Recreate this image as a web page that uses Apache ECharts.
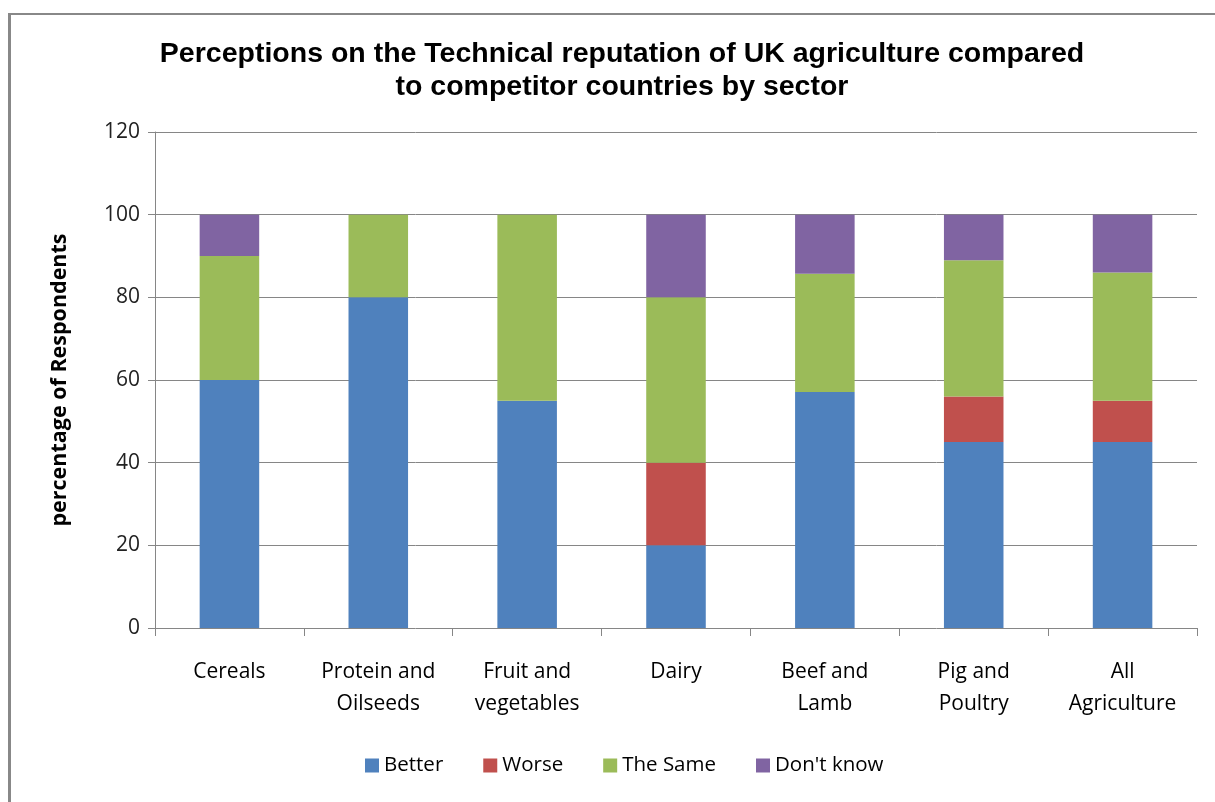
<!DOCTYPE html>
<html>
<head>
<meta charset="utf-8">
<script src="https://cdn.jsdelivr.net/npm/echarts@6/dist/echarts.min.js"></script>
<style>
html,body{margin:0;padding:0;background:#fff;}
#chart{width:1215px;height:802px;}
</style>
</head>
<body>
<div id="chart"></div>
<script>
const categories = ['Cereals', 'Protein and\nOilseeds', 'Fruit and\nvegetables', 'Dairy', 'Beef and\nLamb', 'Pig and\nPoultry', 'All\nAgriculture'];
const better   = [60, 80, 55, 20, 57.1, 45, 45];
const worse    = [0, 0, 0, 20, 0, 11, 10];
const theSame  = [30, 20, 45, 40, 28.6, 33, 31];
const dontKnow = [10, 0, 0, 20, 14.3, 11, 14];
const yTicks = {min: 0, max: 120, interval: 20};

const chart = echarts.init(document.getElementById('chart'));
const lab = "'Open Sans', 'Noto Sans', sans-serif";
function bar(name, data, color) {
  return {name: name, type: 'bar', stack: 'total', data: data, barWidth: '40%',
    itemStyle: {color: color}, emphasis: {disabled: true}};
}
chart.setOption({
  animation: false,
  title: {
    text: 'Perceptions on the Technical reputation of UK agriculture compared\nto competitor countries by sector',
    left: 617, top: 33, textAlign: 'center',
    textStyle: {fontFamily: "'Liberation Sans', Arial, sans-serif", fontWeight: 'bold', fontSize: 28.5, lineHeight: 33, color: '#000'}
  },
  graphic: [
    {type: 'rect', shape: {x: 8, y: 13, width: 3, height: 789}, style: {fill: '#888'}},
    {type: 'rect', shape: {x: 8, y: 13, width: 1207, height: 2}, style: {fill: '#888'}}
  ],
  legend: {
    bottom: 21, left: 360, itemWidth: 14, itemHeight: 14, itemGap: 40,
    icon: 'rect',
    textStyle: {fontFamily: lab, fontSize: 20.5, color: '#000'},
    data: ['Better', 'Worse', 'The Same', "Don't know"]
  },
  grid: {left: 155, right: 18, top: 132, bottom: 174},
  xAxis: {
    type: 'category', data: categories,
    axisLine: {show: false},
    axisTick: {show: true, length: 8, lineStyle: {color: '#868686'}},
    axisLabel: {margin: 28, fontFamily: lab, fontSize: 21, lineHeight: 32, color: '#000'}
  },
  yAxis: {
    type: 'value', min: yTicks.min, max: yTicks.max, interval: yTicks.interval,
    name: 'percentage of Respondents', nameLocation: 'middle', nameGap: 84, nameRotate: 90,
    nameTextStyle: {fontFamily: lab, fontWeight: 'bold', fontSize: 21.5, color: '#000'},
    axisLine: {show: true, lineStyle: {color: '#868686'}},
    axisTick: {show: true, length: 7, lineStyle: {color: '#868686'}},
    axisLabel: {margin: 15, fontFamily: lab, fontSize: 21, color: '#222'},
    splitLine: {lineStyle: {color: '#868686', width: 1}}
  },
  series: [
    bar('Better', better, '#4F81BD'),
    bar('Worse', worse, '#C0504D'),
    bar('The Same', theSame, '#9BBB59'),
    bar("Don't know", dontKnow, '#8064A2')
  ]
});
</script>
</body>
</html>
